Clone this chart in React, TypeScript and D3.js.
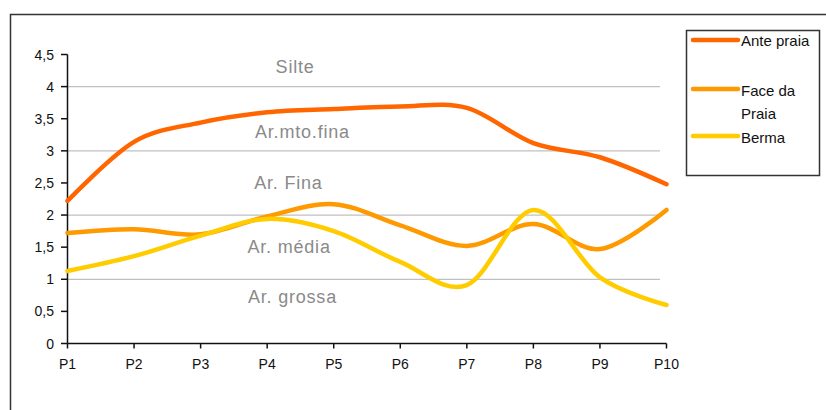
import React from "react";
import * as d3 from "d3";

const categories = ["P1", "P2", "P3", "P4", "P5", "P6", "P7", "P8", "P9", "P10"];
const antepraia = [2.22, 3.14, 3.44, 3.6, 3.65, 3.69, 3.67, 3.12, 2.9, 2.48];
const faceDaPraia = [1.72, 1.78, 1.7, 1.98, 2.17, 1.84, 1.52, 1.86, 1.47, 2.08];
const berma = [1.13, 1.36, 1.68, 1.94, 1.75, 1.27, 0.91, 2.08, 1.03, 0.6];
const yTicks = [0, 0.5, 1, 1.5, 2, 2.5, 3, 3.5, 4, 4.5];
const yTickLabels = ["0", "0,5", "1", "1,5", "2", "2,5", "3", "3,5", "4", "4,5"];
const gridValues = [1, 2, 3, 4];
const bandTexts = ["Silte", "Ar.mto.fina", "Ar. Fina", "Ar. média", "Ar. grossa"];
const bandValues = [4.3, 3.3, 2.5, 1.5, 0.72];
const bandPositions = [3.42, 3.53, 3.32, 3.33, 3.38];

const seriesNames = ["Ante praia", "Face da Praia", "Berma"];
const seriesColors = ["#FF6600", "#FF9900", "#FFCC00"];
const seriesData = [antepraia, faceDaPraia, berma];

export default function App() {
  const W = 826, H = 410;
  const x = d3.scalePoint<string>().domain(categories).range([67.5, 666.5]);
  const xi = d3.scaleLinear().domain([0, categories.length - 1]).range([67.5, 666.5]);
  const y = d3.scaleLinear().domain([0, 4.5]).range([343.5, 54.5]);

  const line = d3
    .line<number>()
    .x((_, i) => x(categories[i]) as number)
    .y((d) => y(d))
    .curve(d3.curveCatmullRom.alpha(0));

  const legendY = [40, 89, 136];

  return (
    <svg
      width={W}
      height={H}
      style={{ position: "absolute", left: 0, top: 0, background: "#fff" }}
      fontFamily="Arial, 'Liberation Sans', sans-serif"
    >
      <rect x={0} y={0} width={W} height={H} fill="#fff" />
      {/* outer frame */}
      <path d={`M10.5,${H + 5} V14.5 H${W + 5}`} fill="none" stroke="#333" strokeWidth={1.5} />

      {/* grid lines */}
      {gridValues.map((v) => (
        <line key={v} x1={67.5} x2={660} y1={y(v)} y2={y(v)} stroke="#c0c0c0" strokeWidth={1.2} />
      ))}

      {/* band labels */}
      {bandTexts.map((t, i) => (
        <text
          key={t}
          x={xi(bandPositions[i])}
          y={y(bandValues[i])}
          textAnchor="middle"
          dominantBaseline="central"
          fontSize={18}
          letterSpacing={0.8}
          fill="#8a8a8a"
        >
          {t}
        </text>
      ))}

      {/* axes */}
      <line x1={67.5} x2={67.5} y1={y(4.5)} y2={y(0)} stroke="#111" strokeWidth={1.5} />
      <line x1={67.5} x2={666.5} y1={y(0)} y2={y(0)} stroke="#111" strokeWidth={1.5} />
      {yTicks.map((v, i) => (
        <g key={v}>
          <line x1={61} x2={67.5} y1={y(v)} y2={y(v)} stroke="#111" strokeWidth={1.5} />
          <text x={54} y={y(v)} textAnchor="end" dominantBaseline="central" fontSize={14} fill="#111">
            {yTickLabels[i]}
          </text>
        </g>
      ))}
      {categories.map((c) => (
        <g key={c}>
          <line x1={x(c)} x2={x(c)} y1={y(0)} y2={y(0) + 5} stroke="#111" strokeWidth={1.5} />
          <text x={x(c)} y={364} textAnchor="middle" dominantBaseline="central" fontSize={14} fill="#111">
            {c}
          </text>
        </g>
      ))}

      {/* series */}
      {seriesData.map((d, i) => (
        <path
          key={seriesNames[i]}
          d={line(d) || ""}
          fill="none"
          stroke={seriesColors[i]}
          strokeWidth={4.5}
          strokeLinejoin="round"
          strokeLinecap="round"
        />
      ))}

      {/* legend */}
      <rect x={686.5} y={30.5} width={133} height={145} fill="#fff" stroke="#333" strokeWidth={1.5} />
      {seriesNames.map((n, i) => (
        <g key={n}>
          <line x1={693} x2={738} y1={legendY[i]} y2={legendY[i]} stroke={seriesColors[i]} strokeWidth={4.5} strokeLinecap="round" />
        </g>
      ))}
      <text x={741} y={40} dominantBaseline="central" fontSize={15} fill="#111">Ante praia</text>
      <text x={741} y={90} dominantBaseline="central" fontSize={15} fill="#111">Face da</text>
      <text x={741} y={113} dominantBaseline="central" fontSize={15} fill="#111">Praia</text>
      <text x={741} y={137} dominantBaseline="central" fontSize={15} fill="#111">Berma</text>
    </svg>
  );
}
